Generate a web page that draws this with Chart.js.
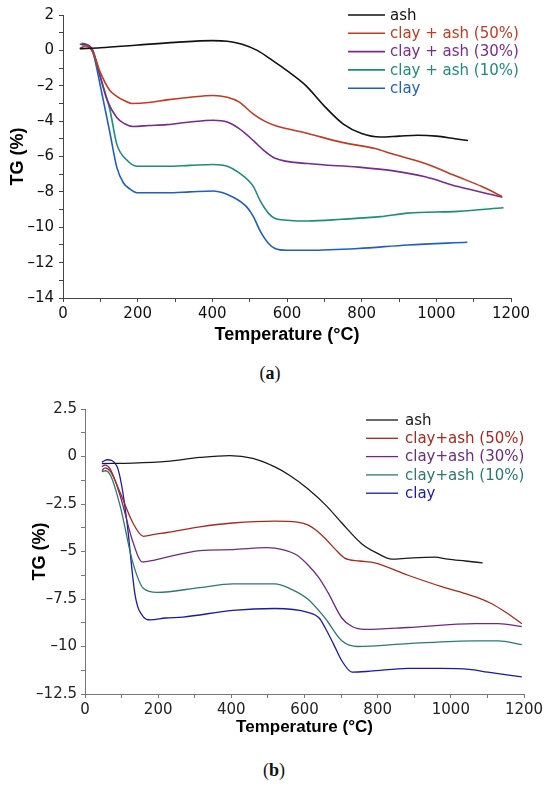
<!DOCTYPE html>
<html>
<head>
<meta charset="utf-8">
<script src="https://cdn.jsdelivr.net/npm/chart.js@4.4.1/dist/chart.umd.min.js"></script>
<style>
  html, body { margin: 0; padding: 0; background: #ffffff; }
  body { width: 550px; height: 790px; position: relative; overflow: hidden; }
  canvas { position: absolute; left: 0; }
  #cA { top: 0; }
  #cB { top: 395px; }
  .cap { position: absolute; font-family: "Liberation Serif", "DejaVu Serif", serif; font-size: 18px; color: #111; transform: translate(-50%, -50%); white-space: nowrap; }
  .cap b { font-weight: bold; }
</style>
</head>
<body>
<canvas id="cA" width="550" height="350"></canvas>
<canvas id="cB" width="550" height="350"></canvas>
<div class="cap" style="left:270px; top:373px;">(<b>a</b>)</div>
<div class="cap" style="left:274px; top:770px;">(<b>b</b>)</div>
<script>
// ---------- Data: chart (a) ----------
const labelsA = ['ash', 'clay + ash (50%)', 'clay + ash (30%)', 'clay + ash (10%)', 'clay'];
const ashA_T  = [45, 100, 200, 300, 400, 440, 480, 520, 560, 600, 650, 700, 750, 800, 850, 900, 950, 1000, 1050, 1085];
const ashA_TG = [0.1, 0.15, 0.3, 0.45, 0.55, 0.52, 0.35, 0.0, -0.55, -1.15, -1.98, -3.15, -4.15, -4.7, -4.9, -4.85, -4.8, -4.85, -5.0, -5.1];
const c50A_T  = [45, 60, 80, 99, 125, 144, 165, 184, 230, 278, 340, 402, 440, 470, 510, 540, 568, 656, 747, 836, 881, 970, 1058, 1122, 1175];
const c50A_TG = [0.1, 0.25, -0.1, -1.2, -2.25, -2.6, -2.85, -3.0, -2.95, -2.8, -2.65, -2.55, -2.65, -2.9, -3.6, -4.0, -4.25, -4.7, -5.2, -5.55, -5.85, -6.4, -7.15, -7.7, -8.25];
const c30A_T  = [45, 60, 80, 100, 118, 144, 165, 188, 230, 278, 340, 402, 440, 470, 510, 540, 568, 656, 791, 881, 970, 1058, 1177];
const c30A_TG = [0.35, 0.35, 0.0, -1.5, -2.8, -3.8, -4.15, -4.3, -4.25, -4.2, -4.05, -3.95, -4.05, -4.4, -5.1, -5.7, -6.1, -6.4, -6.6, -6.8, -7.15, -7.7, -8.3];
const c10A_T  = [50, 60, 80, 100, 126, 144, 171, 198, 240, 278, 340, 402, 440, 470, 510, 528, 550, 568, 600, 656, 747, 850, 924, 1058, 1180];
const c10A_TG = [0.3, 0.3, -0.1, -1.5, -3.4, -5.3, -6.2, -6.55, -6.55, -6.55, -6.5, -6.45, -6.55, -6.9, -7.7, -8.5, -9.2, -9.5, -9.6, -9.65, -9.55, -9.4, -9.2, -9.1, -8.9];
const clayA_T  = [50, 60, 80, 99, 126, 144, 162, 180, 198, 240, 278, 340, 402, 456, 492, 510, 528, 550, 568, 600, 656, 791, 924, 1083];
const clayA_TG = [0.4, 0.35, -0.1, -1.9, -4.7, -6.6, -7.5, -7.85, -8.05, -8.05, -8.05, -8.0, -7.95, -8.3, -8.85, -9.4, -10.2, -10.9, -11.2, -11.3, -11.3, -11.2, -11.0, -10.85];
const colorsA = ['#111111', '#c23a22', '#7a2a8c', '#1e8c78', '#1f5fc2'];

// ---------- Data: chart (b) ----------
const labelsB = ['ash', 'clay+ash (50%)', 'clay+ash (30%)', 'clay+ash (10%)', 'clay'];
const ashB_T  = [46, 131, 224, 314, 396, 459, 519, 560, 609, 660, 702, 757, 800, 839, 883, 956, 992, 1040, 1087];
const ashB_TG = [-0.37, -0.35, -0.26, -0.05, 0.05, -0.1, -0.55, -1.0, -1.7, -2.6, -3.5, -4.6, -5.1, -5.4, -5.35, -5.3, -5.4, -5.5, -5.6];
const c50B_T  = [46, 55, 70, 96, 131, 160, 190, 224, 314, 404, 519, 580, 609, 630, 656, 685, 710, 750, 792, 883, 975, 1020, 1070, 1112, 1150, 1194];
const c50B_TG = [-0.74, -0.6, -0.8, -1.9, -3.5, -4.2, -4.1, -4.0, -3.7, -3.5, -3.4, -3.45, -3.6, -3.85, -4.3, -4.9, -5.35, -5.5, -5.6, -6.25, -6.85, -7.1, -7.4, -7.75, -8.2, -8.8];
const c30B_T  = [46, 55, 70, 96, 131, 156, 190, 224, 314, 404, 497, 540, 580, 609, 640, 664, 702, 730, 765, 883, 1066, 1130, 1194];
const c30B_TG = [-0.53, -0.45, -0.7, -2.05, -4.5, -5.55, -5.45, -5.3, -4.95, -4.9, -4.8, -4.9, -5.2, -5.7, -6.4, -7.15, -8.5, -8.95, -9.1, -9.0, -8.8, -8.8, -8.95];
const c10B_T  = [46, 55, 70, 96, 131, 160, 197, 314, 404, 519, 560, 609, 656, 702, 746, 883, 1066, 1130, 1194];
const c10B_TG = [-0.8, -0.75, -1.0, -2.6, -5.6, -6.95, -7.15, -6.9, -6.7, -6.7, -6.95, -7.5, -8.5, -9.7, -10.0, -9.85, -9.7, -9.7, -9.9];
const clayB_T  = [46, 60, 87, 100, 115, 137, 160, 178, 220, 268, 404, 519, 609, 640, 656, 680, 702, 730, 780, 883, 975, 1050, 1101, 1194];
const clayB_TG = [-0.3, -0.17, -0.5, -1.5, -3.5, -7.3, -8.45, -8.6, -8.5, -8.45, -8.1, -8.0, -8.2, -8.5, -9.0, -9.9, -10.75, -11.35, -11.3, -11.15, -11.15, -11.2, -11.35, -11.6];
const colorsB = ['#1a1a1a', '#a8281e', '#6e2a80', '#2a7a70', '#1a1aa8'];

// ---------- Tick settings ----------
const xTicksMajor = 200, xTicksMinor = 100, xMin = 0, xMax = 1200;
const yA = { min: -14, max: 2, major: 2, minor: 1 };
const yB = { min: -12.5, max: 2.5, major: 2.5, minor: 1.25 };

function pts(T, V) { return T.map((t, i) => ({ x: t, y: V[i] })); }
function fmt(v) {
  const r = Math.round(v * 100) / 100;
  return (r < 0 ? '\u2013' : '') + Math.abs(r);
}
function isMajor(v, step) { return Math.abs(v / step - Math.round(v / step)) < 1e-6; }

const inlineLegend = {
  id: 'inlineLegend',
  afterDatasetsDraw(chart, args, o) {
    const ctx = chart.ctx;
    ctx.save();
    ctx.font = o.font;
    ctx.textBaseline = 'middle';
    ctx.textAlign = 'left';
    chart.data.datasets.forEach((ds, i) => {
      const y = o.y + i * o.dy;
      ctx.strokeStyle = ds.borderColor;
      ctx.lineWidth = o.lw;
      ctx.beginPath(); ctx.moveTo(o.x1, y); ctx.lineTo(o.x2, y); ctx.stroke();
      ctx.fillStyle = ds.borderColor;
      ctx.fillText(ds.label, o.tx, y + 1);
    });
    ctx.restore();
  }
};

function makeChart(id, series, labels, colors, yc, cfg) {
  return new Chart(document.getElementById(id), {
    type: 'line',
    data: {
      datasets: series.map((s, i) => ({
        label: labels[i],
        data: pts(s[0], s[1]),
        borderColor: colors[i],
        backgroundColor: colors[i],
        borderWidth: cfg.lw,
        pointRadius: 0,
        fill: false,
        cubicInterpolationMode: 'monotone'
      }))
    },
    options: {
      responsive: false,
      animation: false,
      devicePixelRatio: 1,
      layout: { padding: { top: cfg.top, right: cfg.right, left: 0, bottom: 0 } },
      plugins: {
        legend: { display: false },
        tooltip: { enabled: false },
        inlineLegend: cfg.legend
      },
      scales: {
        x: {
          type: 'linear', min: xMin, max: xMax,
          border: { display: true, color: cfg.axisColor, width: 1 },
          grid: { drawOnChartArea: false, drawTicks: true, tickLength: 4, color: cfg.axisColor },
          ticks: {
            stepSize: xTicksMinor, autoSkip: false, maxRotation: 0, padding: 3,
            color: cfg.tickColor, font: { family: 'DejaVu Sans', size: 15 },
            callback: v => isMajor(v, xTicksMajor) ? String(v) : ''
          },
          title: {
            display: true, text: 'Temperature (\u00B0C)', color: '#000',
            font: { family: 'Liberation Sans', size: cfg.xtSize, weight: 'bold' },
            padding: { top: 0, bottom: cfg.xtPad }
          },
          afterFit: s => { s.height = cfg.xh; }
        },
        y: {
          type: 'linear', min: yc.min, max: yc.max,
          border: { display: true, color: cfg.axisColor, width: 1 },
          grid: { drawOnChartArea: false, drawTicks: true, tickLength: 4, color: cfg.axisColor },
          ticks: {
            stepSize: yc.minor, autoSkip: false, padding: cfg.ypad,
            color: cfg.tickColor, font: { family: 'DejaVu Sans', size: 15 },
            callback: v => isMajor(v, yc.major) ? fmt(v) : ''
          },
          title: {
            display: true, text: 'TG (%)', color: '#000',
            font: { family: 'Liberation Sans', size: 18, weight: 'bold' },
            padding: { top: cfg.ytPad, bottom: 0 }
          },
          afterFit: s => { s.width = cfg.yw; }
        }
      }
    },
    plugins: [inlineLegend]
  });
}

makeChart('cA',
  [[ashA_T, ashA_TG], [c50A_T, c50A_TG], [c30A_T, c30A_TG], [c10A_T, c10A_TG], [clayA_T, clayA_TG]],
  labelsA, colorsA, yA,
  { lw: 1.6, top: 15, right: 39, xh: 52, yw: 63, xtSize: 18, xtPad: 4, ytPad: 7, ypad: 5,
    axisColor: '#444', tickColor: '#111',
    legend: { x1: 348, x2: 385, tx: 390, y: 15, dy: 18.3, lw: 1.6, font: '15px "DejaVu Sans"' } });

makeChart('cB',
  [[ashB_T, ashB_TG], [c50B_T, c50B_TG], [c30B_T, c30B_TG], [c10B_T, c10B_TG], [clayB_T, clayB_TG]],
  labelsB, colorsB, yB,
  { lw: 1.3, top: 14, right: 26, xh: 51, yw: 85, xtSize: 17, xtPad: 7, ytPad: 29, ypad: 4,
    axisColor: '#777', tickColor: '#222',
    legend: { x1: 366, x2: 398, tx: 405, y: 25, dy: 18.3, lw: 1.3, font: '15px "DejaVu Sans"' } });
</script>
</body>
</html>
